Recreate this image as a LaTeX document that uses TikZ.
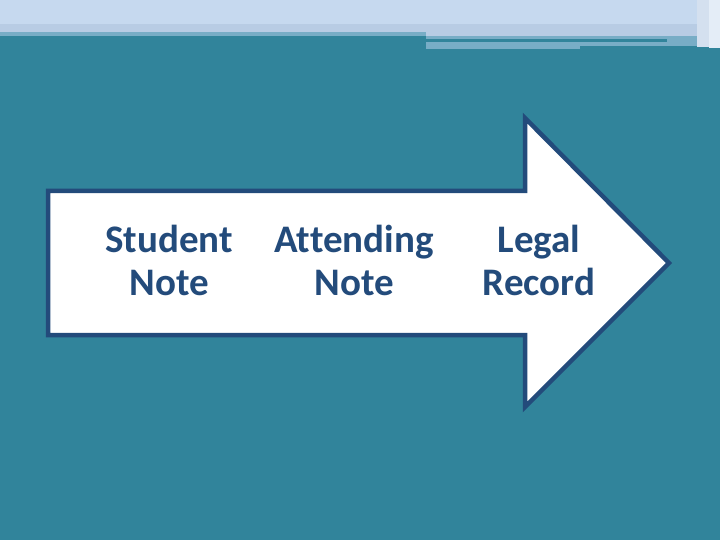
\documentclass[tikz,border=0pt]{standalone}
\usepackage{fontspec}
\setmainfont[Ligatures={NoCommon}]{Carlito}
\usepackage{tikz}
\usetikzlibrary{positioning}

\definecolor{slideteal}{HTML}{31849B}
\definecolor{bandlight}{HTML}{C6D9EF}
\definecolor{bandmid}{HTML}{B8CCE4}
\definecolor{bandteal}{HTML}{78ADC6}
\definecolor{arrowblue}{HTML}{234B7B}
\definecolor{edgewhite}{HTML}{E4EDF7}

\begin{document}
\begin{tikzpicture}[x=1pt, y=-1pt]
    % Define styles
    \tikzset{stage/.style={text=arrowblue, font=\fontsize{39}{43}\selectfont\bfseries, align=center, inner sep=0pt}}
    \tikzset{bigarrow/.style={draw=arrowblue, line width=4.5pt, fill=white, line join=miter}}

    % Background
    \fill[slideteal] (0,0) rectangle (720,540);
    \useasboundingbox (0,0) rectangle (720,540);

    % Top band
    \fill[bandlight] (0,0) rectangle (720,24);
    \fill[bandmid] (0,24) rectangle (720,32);
    \fill[bandteal] (0,32) rectangle (426,36);
    \fill[bandmid] (426,32) rectangle (700,36);
    \fill[bandteal] (426,36) rectangle (700,46);
    \fill[slideteal] (426,39) rectangle (667,42);
    \fill[slideteal] (580,46) rectangle (700,49);
    \fill[bandteal] (426,46) rectangle (580,49);
    \fill[bandmid!60!white] (697,0) rectangle (709,47);
    \fill[edgewhite] (709,0) rectangle (720,48);

    % Arrow
    \draw[bigarrow] (48,191) -- (525,191) -- (525,118) -- (669,263)
        -- (525,407) -- (525,335) -- (48,335) -- cycle;

    % Stages
    \node[stage] (student) at (169,260) {Student\\Note};
    \node[stage] (attending) at (354,260) {Attending\\Note};
    \node[stage] (legal) at (539,260) {Legal\\Record};
\end{tikzpicture}
\end{document}
